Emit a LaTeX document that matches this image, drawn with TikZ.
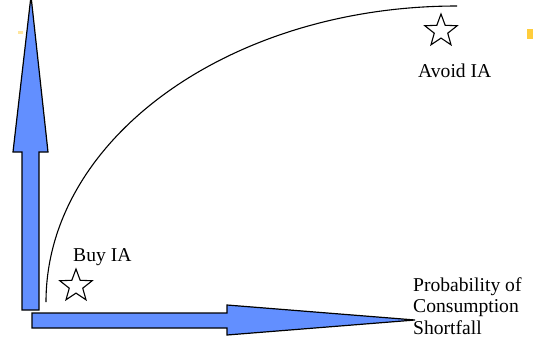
\documentclass[tikz,border=0pt]{standalone}
\usepackage{fontspec}
\setmainfont{Liberation Serif}
\usetikzlibrary{shapes.geometric}
\definecolor{arrowblue}{RGB}{98,143,255}
\definecolor{handle}{RGB}{255,205,60}
\tikzset{
  x=1pt, y=-1pt,
  bigarrow/.style={draw=black, line width=1.2pt, fill=arrowblue, line join=miter},
  lbl/.style={font=\fontsize{19.6}{21.5}\selectfont, inner sep=0pt},
  starmark/.style={star, star points=5, star point ratio=2.4, draw=black, line width=1.1pt, minimum size=34pt, inner sep=0pt},
  curveline/.style={draw=black, line width=1.1pt}
}
\begin{document}
\begin{tikzpicture}
\useasboundingbox (0,0) rectangle (533,341);
% vertical axis arrow
\draw[bigarrow] (22,310) -- (39,310) -- (39,152) -- (48,152) -- (31,-4) -- (13,152) -- (22,152) -- cycle;
% horizontal axis arrow
\draw[bigarrow] (32,313) -- (227,313) -- (227,305) -- (415,320) -- (227,335) -- (227,328) -- (32,328) -- cycle;
% curve
\coordinate (cstart) at (46,302);
\coordinate (cend) at (457,6);
\draw[curveline] (cstart) arc[start angle=180, end angle=90, x radius=411, y radius=-296];
% stars
\node[starmark] (buystar) at (76,286) {};
\node[starmark] (avoidstar) at (441,31) {};
% labels
\node[lbl, anchor=base west] (buy) at (73,261) {Buy IA};
\node[lbl, anchor=base west] (avoid) at (418,77) {Avoid IA};
\node[lbl, anchor=north west, align=left] (prob) at (413,277) {Probability of\\Consumption\\Shortfall};
% small handle marks
\fill[handle!50] (18,31) rectangle (23,34);
\fill[handle] (527,29) rectangle (533,39);
\end{tikzpicture}
\end{document}
